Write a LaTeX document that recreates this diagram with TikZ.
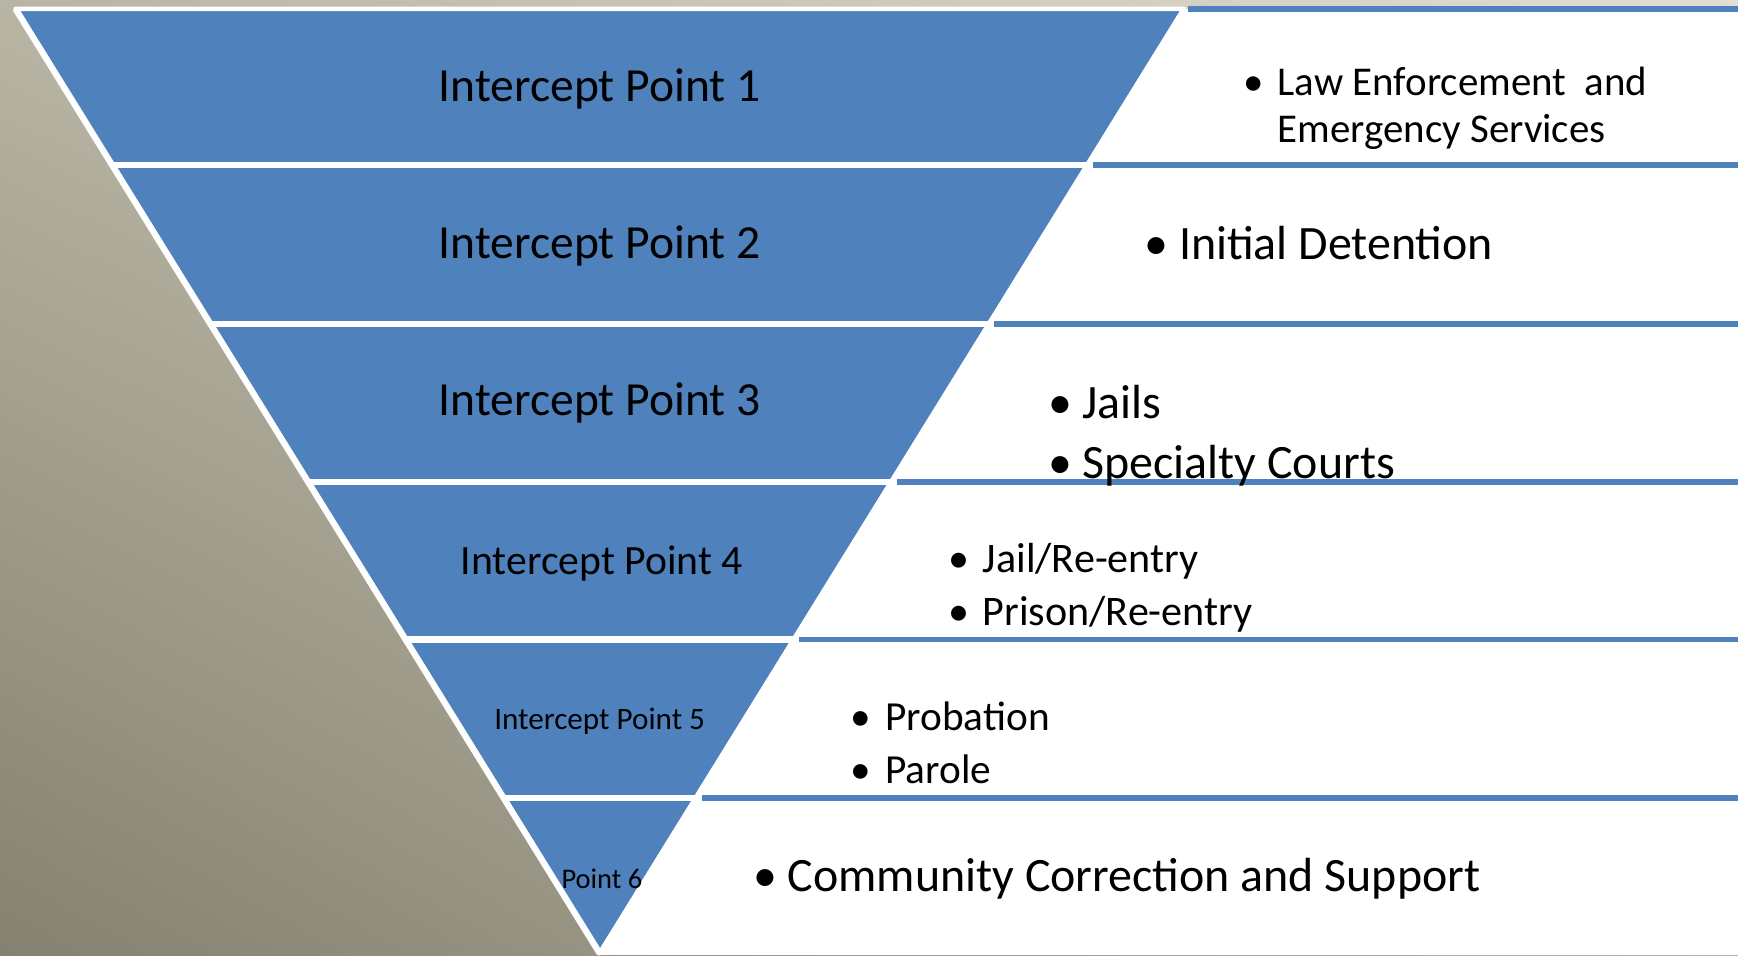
\documentclass[tikz,border=0pt]{standalone}
\usepackage{fontspec}
\setmainfont{Carlito}
\usetikzlibrary{shadings}
\definecolor{bandblue}{HTML}{4F81BD}
\definecolor{bgdark}{HTML}{858170}
\definecolor{bgmid}{HTML}{B9B5A5}
\definecolor{bglight}{HTML}{E2DED0}
\newcommand{\bulletrow}[1]{\makebox[0.31cm][l]{\textbullet}#1}
\begin{document}
\begin{tikzpicture}[
    band/.style={fill=bandblue, draw=white, line width=1.2pt, line join=round},
    cut/.style={draw=white, line width=1.6pt},
    rule/.style={draw=bandblue, line width=1.5pt},
    iplabel/.style={inner sep=0pt, anchor=center},
    item/.style={inner sep=0pt, anchor=west, align=left}
  ]
  \useasboundingbox (0,0) rectangle (15.68,8.62);
  % slide background
  \shade[lower left=bgdark, upper left=bgmid, lower right=bgmid, upper right=bglight] (0,0) rectangle (15.68,8.62);
  \fill[white] (5.41,0) rectangle (15.68,8.54);
  % inverted pyramid
  \draw[band] (0.14,8.54) -- (10.68,8.54) -- (5.41,0.02) -- cycle;
  \draw[white, line width=0.6pt] (10.68,8.54) -- (5.41,0.02);
  \draw[white, line width=1.6pt] (0.14,8.54) -- (5.41,0.02);
  \draw[cut] (1.01,7.13) -- (9.81,7.13);
  \draw[cut] (1.90,5.70) -- (8.92,5.70);
  \draw[cut] (2.78,4.27) -- (8.04,4.27);
  \draw[cut] (3.66,2.85) -- (7.16,2.85);
  \draw[cut] (4.54,1.42) -- (6.28,1.42);
  % rules on the right
  \draw[rule] (10.72,8.54) -- (15.68,8.54);
  \draw[rule] (9.86,7.13) -- (15.68,7.13);
  \draw[rule] (8.97,5.70) -- (15.68,5.70);
  \draw[rule] (8.09,4.27) -- (15.68,4.27);
  \draw[rule] (7.21,2.85) -- (15.68,2.85);
  \draw[rule] (6.33,1.42) -- (15.68,1.42);
  % labels in the bands
  \node[iplabel, font=\fontsize{12.2}{14}\selectfont] (ip1) at (5.41,7.82) {Intercept Point 1};
  \node[iplabel, font=\fontsize{12.2}{14}\selectfont] (ip2) at (5.41,6.40) {Intercept Point 2};
  \node[iplabel, font=\fontsize{12.2}{14}\selectfont] (ip3) at (5.41,4.98) {Intercept Point 3};
  \node[iplabel, font=\fontsize{10.7}{13}\selectfont] (ip4) at (5.43,3.54) {Intercept Point 4};
  \node[iplabel, font=\fontsize{8}{10}\selectfont] (ip5) at (5.41,2.11) {Intercept Point 5};
  \node[iplabel, font=\fontsize{7.3}{9}\selectfont] (ip6) at (5.43,0.69) {Point 6};
  % items on the right
  \node[item, font=\fontsize{10.5}{12}\selectfont] (lawenf) at (11.21,7.64)
    {\bulletrow{Law Enforcement\ \ and}\\\hspace*{0.31cm}Emergency Services};
  \node[item, font=\fontsize{12.3}{15}\selectfont] (detention) at (10.32,6.43)
    {\bulletrow{Initial Detention}};
  \node[item, font=\fontsize{12.3}{15.6}\selectfont] (jails) at (9.45,4.69)
    {\bulletrow{Jails}\\\bulletrow{Specialty Courts}};
  \node[item, font=\fontsize{10.8}{13.7}\selectfont] (reentry) at (8.55,3.32)
    {\bulletrow{Jail/Re-entry}\\\bulletrow{Prison/Re-entry}};
  \node[item, font=\fontsize{10.6}{13.7}\selectfont] (probation) at (7.67,1.92)
    {\bulletrow{Probation}\\\bulletrow{Parole}};
  \node[item, font=\fontsize{12.3}{15}\selectfont] (community) at (6.79,0.69)
    {\bulletrow{Community Correction and Support}};
\end{tikzpicture}
\end{document}
